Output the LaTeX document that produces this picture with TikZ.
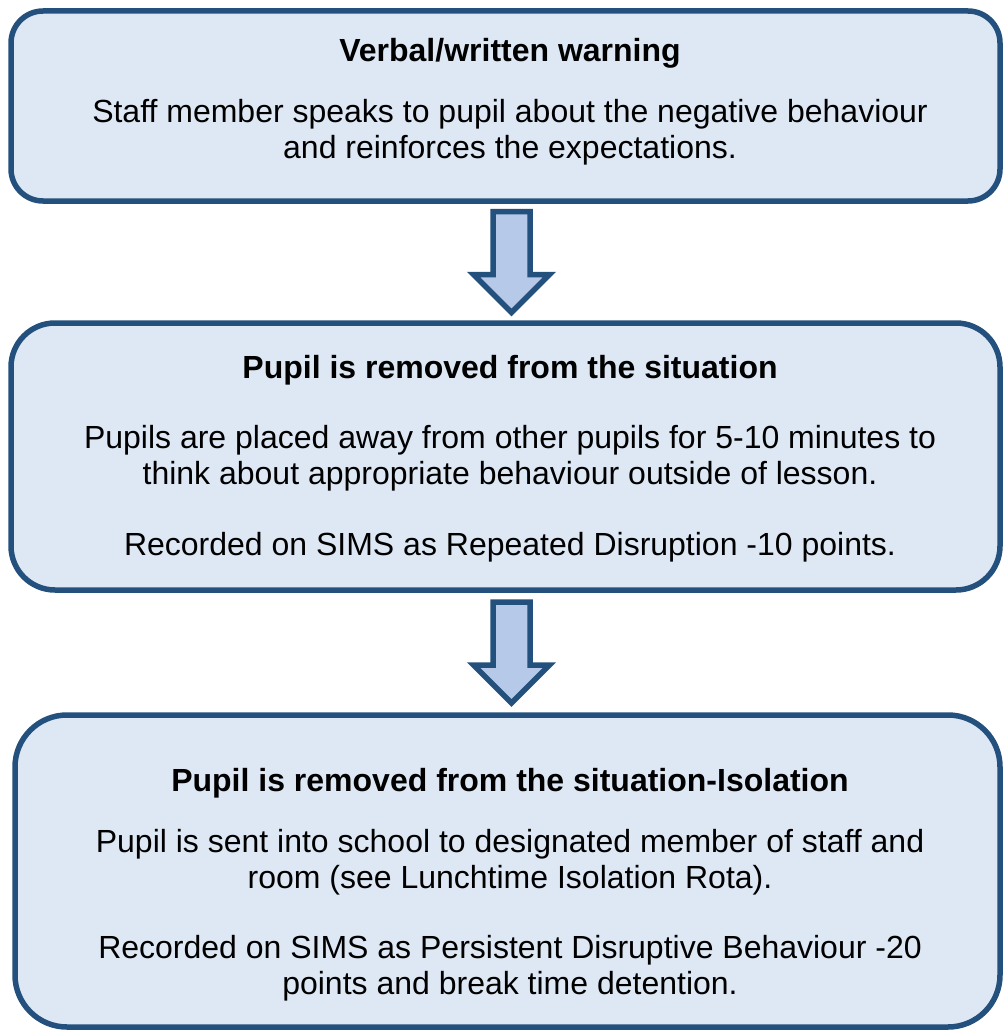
\documentclass[tikz,border=0pt]{standalone}
\usepackage{fontspec}
\setmainfont{Liberation Sans}
\usetikzlibrary{calc}
\definecolor{edgeblue}{HTML}{23507D}
\definecolor{boxfill}{HTML}{DEE8F5}
\definecolor{arrowfill}{HTML}{B7C9E8}
\tikzset{
  stagebox/.style={draw=edgeblue, fill=boxfill, line width=5.5pt, inner sep=0pt, outer sep=0pt},
  blockarrow/.style={draw=edgeblue, fill=arrowfill, line width=5.5pt, line join=miter},
  txt/.style={anchor=base, inner sep=0pt, font=\fontsize{32}{36}\selectfont},
  ttl/.style={txt, font=\fontsize{32}{36}\selectfont\bfseries},
}
\begin{document}
\begin{tikzpicture}[x=1pt,y=-1pt]
\useasboundingbox (0,0) rectangle (1002,1030);
% boxes
\node[stagebox, minimum width=989pt, minimum height=190pt, rounded corners=32pt] (b1) at (505.5,106) {};
\node[stagebox, minimum width=989pt, minimum height=267pt, rounded corners=44pt] (b2) at (505.5,456.5) {};
\node[stagebox, minimum width=985pt, minimum height=312pt, rounded corners=52pt] (b3) at (507.5,871) {};
% arrows
\coordinate (a1) at ($(b1.south)!0.5!(b2.north)+(6,0)$);
\coordinate (a2) at ($(b2.south)!0.5!(b3.north)+(5,0)$);
\draw[blockarrow] ([shift={(-18.5,-50.5)}]a1) -- ++(37,0) -- ++(0,63) -- ++(19.5,0) -- ++(-38,38) -- ++(-38,-38) -- ++(19.5,0) -- cycle;
\draw[blockarrow] ([shift={(-18.5,-50.5)}]a2) -- ++(37,0) -- ++(0,63) -- ++(19.5,0) -- ++(-38,38) -- ++(-38,-38) -- ++(19.5,0) -- cycle;
% box 1 text
\node[ttl] (t1) at (510,62) {Verbal/written warning};
\node[txt] (t1a) at (510,122) {Staff member speaks to pupil about the negative behaviour};
\node[txt] (t1b) at (510,158) {and reinforces the expectations.};
% box 2 text
\node[ttl] (t2) at (510,378) {Pupil is removed from the situation};
\node[txt] (t2a) at (510,448) {Pupils are placed away from other pupils for 5-10 minutes to};
\node[txt] (t2b) at (510,484) {think about appropriate behaviour outside of lesson.};
\node[txt] (t2c) at (510,555) {Recorded on SIMS as Repeated Disruption -10 points.};
% box 3 text
\node[ttl] (t3) at (510,791) {Pupil is removed from the situation-Isolation};
\node[txt] (t3a) at (510,852) {Pupil is sent into school to designated member of staff and};
\node[txt] (t3b) at (510,888) {room (see Lunchtime Isolation Rota).};
\node[txt] (t3c) at (510,958) {Recorded on SIMS as Persistent Disruptive Behaviour -20};
\node[txt] (t3d) at (510,994) {points and break time detention.};
\end{tikzpicture}
\end{document}
